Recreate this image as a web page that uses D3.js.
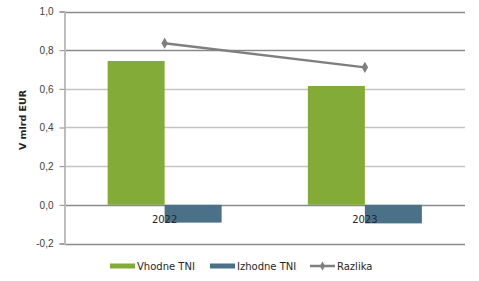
<!DOCTYPE html>
<html>
<head>
<meta charset="utf-8">
<script src="https://cdn.jsdelivr.net/npm/d3@7"></script>
<style>
  body { margin: 0; background: #fff; }
  svg { display: block; font-family: "DejaVu Sans", Verdana, sans-serif; }
</style>
</head>
<body>
<svg id="chart" width="479" height="281"></svg>
<script>
var years = ['2022', '2023'];
var vhodne = [0.744, 0.615];
var izhodne = [-0.092, -0.096];
var razlika = [0.836, 0.711];
var yTicks = [-0.2, 0, 0.2, 0.4, 0.6, 0.8, 1.0];
var seriesNames = ['Vhodne TNI', 'Izhodne TNI', 'Razlika'];
var colors = ['#83ab38', '#4b7189', '#7f7f7f'];

var svg = d3.select('#chart');
var margins = {top: 11.5, left: 64.5, right: 14, bottom: 37};
var width = 479, height = 281;

var y = d3.scaleLinear().domain([-0.2, 1.0]).range([243.5, margins.top]);
var x = d3.scaleBand().domain(years).range([margins.left, 465]);
var inner = d3.scaleBand().domain([0, 1]).range([0, 114]);

var fmt = function(v) { return d3.format('.1f')(v).replace('.', ',').replace('−', '-'); };

// gridlines
var darker = {'1': 1, '0.8': 1, '0': 1, '-0.2': 1};
svg.append('g').selectAll('line').data(yTicks).enter().append('line')
    .attr('x1', margins.left).attr('x2', 465)
    .attr('y1', function(d) { return Math.round(y(d)) + 0.5; })
    .attr('y2', function(d) { return Math.round(y(d)) + 0.5; })
    .attr('stroke', function(d) { return darker[String(+d.toFixed(1))] ? '#8a8a8a' : '#c4c4c4'; })
    .attr('stroke-width', 1.5);

// y axis
var yAxis = d3.axisLeft(y).tickValues(yTicks).tickSize(5).tickPadding(6).tickFormat(fmt);
var ga = svg.append('g').attr('transform', 'translate(' + margins.left + ',0)').call(yAxis);
ga.select('.domain').attr('stroke', '#bdbdbd').attr('stroke-width', 2);
ga.selectAll('.tick line').attr('stroke', '#8a8a8a');
ga.selectAll('.tick text').attr('fill', '#404040').style('font-size', '10px');

svg.append('text')
    .attr('transform', 'translate(26,120) rotate(-90)')
    .attr('text-anchor', 'middle')
    .style('font-size', '9.5px').style('font-weight', 'bold').attr('fill', '#262626')
    .text('V mlrd EUR');

// bars
var groups = svg.append('g').selectAll('g').data(years).enter().append('g')
    .attr('transform', function(d) { return 'translate(' + (x(d) + x.bandwidth() / 2 - 57) + ',0)'; });

groups.append('rect')
    .attr('x', inner(0)).attr('width', inner.bandwidth())
    .attr('y', function(d, i) { return y(vhodne[i]); })
    .attr('height', function(d, i) { return y(0) - y(vhodne[i]); })
    .attr('fill', colors[0]);

groups.append('rect')
    .attr('x', inner(1)).attr('width', inner.bandwidth())
    .attr('y', y(0))
    .attr('height', function(d, i) { return y(izhodne[i]) - y(0); })
    .attr('fill', colors[1]);

// category labels
svg.append('g').selectAll('text').data(years).enter().append('text')
    .attr('x', function(d) { return x(d) + x.bandwidth() / 2; })
    .attr('y', 223)
    .attr('text-anchor', 'middle')
    .style('font-size', '10px').attr('fill', '#262626')
    .text(function(d) { return d; });

// line
var line = d3.line()
    .x(function(d, i) { return x(years[i]) + x.bandwidth() / 2; })
    .y(function(d) { return y(d); });
svg.append('path').datum(razlika)
    .attr('d', line).attr('fill', 'none')
    .attr('stroke', colors[2]).attr('stroke-width', 2.5);
var diamond = d3.symbol().type(d3.symbolDiamond).size(36);
svg.append('g').selectAll('path').data(razlika).enter().append('path')
    .attr('d', diamond)
    .attr('transform', function(d, i) { return 'translate(' + (x(years[i]) + x.bandwidth() / 2) + ',' + y(d) + ')'; })
    .attr('fill', colors[2]);

// legend
var legX = [110, 210, 310];
var leg = svg.append('g').selectAll('g').data(seriesNames).enter().append('g')
    .attr('transform', function(d, i) { return 'translate(' + legX[i] + ',266)'; });
leg.each(function(d, i) {
  var g = d3.select(this);
  if (i < 2) {
    g.append('rect').attr('x', 0).attr('y', -2.5).attr('width', 25).attr('height', 5).attr('fill', colors[i]);
  } else {
    g.append('line').attr('x1', 0).attr('x2', 25).attr('y1', 0).attr('y2', 0)
        .attr('stroke', colors[2]).attr('stroke-width', 2.5);
    g.append('path').attr('d', d3.symbol().type(d3.symbolDiamond).size(24))
        .attr('transform', 'translate(12.5,0)').attr('fill', colors[2]);
  }
  g.append('text').attr('x', 27).attr('y', 3.5)
      .style('font-size', '10px').attr('fill', '#262626').text(d);
});
</script>
</body>
</html>
